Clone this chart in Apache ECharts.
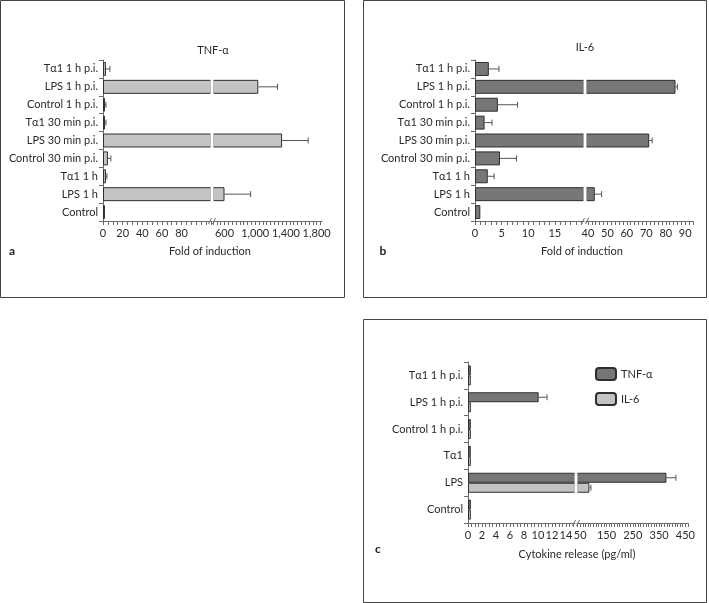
<!DOCTYPE html>
<html><head><meta charset="utf-8">
<script src="https://cdn.jsdelivr.net/npm/echarts@6/dist/echarts.min.js"></script>
<style>html,body{margin:0;padding:0;background:#fff}#c{width:709px;height:603px}</style>
</head><body><div id="c"></div>
<script>
// ---- data ----
const catsAB = ['Control','LPS 1 h','Tα1 1 h','Control 30 min p.i.','LPS 30 min p.i.','Tα1 30 min p.i.','Control 1 h p.i.','LPS 1 h p.i.','Tα1 1 h p.i.'];
const tnfFold    = [2, 600, 3, 5, 1350, 2, 2, 1040, 3];
const tnfFoldErr = [0, 340, 1, 3, 340, 1, 1, 250, 4];
const il6Fold    = [1.0, 43.5, 2.4, 4.7, 71.5, 1.8, 4.3, 85, 2.6];
const il6FoldErr = [0, 3.5, 1.2, 3.1, 1.5, 1.4, 3.7, 1, 1.9];
const catsC = ['Control','LPS','Tα1','Control 1 h p.i.','LPS 1 h p.i.','Tα1 1 h p.i.'];
const tnfRelease    = [0.4, 378, 0.4, 0.4, 10.1, 0.4];
const tnfReleaseErr = [0, 36, 0, 0, 1.2, 0];
const il6Release    = [0.4, 85, 0.4, 0.4, 0.4, 0.4];
const il6ReleaseErr = [0, 6, 0, 0, 0, 0];
const labelsA1 = [0, 20, 40, 60, 80];
const labelsA2 = [600, 1000, 1400, 1800];
const labelsB1 = [0, 5, 10, 15];
const labelsB2 = [40, 50, 60, 70, 80, 90];
const labelsC1 = [0, 2, 4, 6, 8, 10, 12, 14];
const labelsC2 = [50, 150, 250, 350, 450];

// ---- helpers ----
const FONT = 'Lato, "Liberation Sans", sans-serif';
const FS = 11;
const TXT = '#2a2a2a';
const AX = '#6a6a6a';
const DARK = '#777777', LIGHT = '#c3c3c3', EDGE = '#2e2e2e';
function range(a, b, s){ const r=[]; for(let v=a; v<=b+1e-9; v+=s) r.push(+v.toFixed(4)); return r; }
function fmt(v){ return String(v).replace(/\B(?=(\d{3})+(?!\d))/g, ','); }

function xAx(gi, min, max, labels, tickStep, tickStart, formatter){
  return {
    type:'value', gridIndex:gi, min:min, max:max,
    axisLine:{show:true, lineStyle:{color:AX, width:1}},
    axisTick:{show:true, length:4, lineStyle:{color:AX}, customValues: range(tickStart, max, tickStep)},
    axisLabel:{show:true, customValues:labels, margin:7, fontSize:FS, fontFamily:FONT, color:TXT,
      formatter: formatter || (v => String(v))},
    splitLine:{show:false}
  };
}
function yAx(gi, cats, show){
  return {
    type:'category', gridIndex:gi, data:cats, show:show,
    axisLine:{show:true, lineStyle:{color:AX}},
    axisTick:{show:true, length:4, lineStyle:{color:AX}},
    axisLabel:{show:true, margin:5, fontSize:FS, fontFamily:FONT, color:TXT},
    splitLine:{show:false}
  };
}
function bars(name, xi, vals, color, extra){
  return Object.assign({
    type:'bar', name:name, xAxisIndex:xi, yAxisIndex:xi, data:vals, clip:true, z:3,
    itemStyle:{color:color, borderColor:EDGE, borderWidth:1},
    emphasis:{disabled:true}, animation:false
  }, extra||{});
}
function errRender(offset){
  return function(params, api){
    const e = api.value(2);
    if (!e) return null;
    const v = api.value(0), idx = api.value(1);
    const p0 = api.coord([v, idx]), p1 = api.coord([v + e, idx]);
    const cs = params.coordSys;
    if (p0[0] < cs.x - 1 || p1[0] > cs.x + cs.width + 1) return null;
    const y = p0[1] + offset;
    return {type:'group', children:[
      {type:'line', shape:{x1:p0[0], y1:y, x2:p1[0], y2:y}, style:{stroke:'#555', lineWidth:1}},
      {type:'line', shape:{x1:p1[0], y1:y-3, x2:p1[0], y2:y+3}, style:{stroke:'#555', lineWidth:1}}
    ]};
  };
}
function errs(xi, vals, errv, offset){
  return {type:'custom', xAxisIndex:xi, yAxisIndex:xi, z:5, animation:false, silent:true,
    encode:{x:0, y:1},
    data: vals.map((v,i)=>[v, i, errv[i]]),
    renderItem: errRender(offset)};
}
function txt(x, y, s, opts){
  return Object.assign({type:'text', x:x, y:y, silent:true,
    style:Object.assign({text:s, fill:TXT, font:FS + 'px ' + FONT, align:'center', verticalAlign:'middle'}, (opts||{}))});
}
function brk(x, y){
  return [
    {type:'line', silent:true, z:10, shape:{x1:x-3.5, y1:y+3, x2:x-0.5, y2:y-3}, style:{stroke:AX, lineWidth:1}},
    {type:'line', silent:true, z:10, shape:{x1:x+0.5, y1:y+3, x2:x+3.5, y2:y-3}, style:{stroke:AX, lineWidth:1}}
  ];
}
// white cut through the bars at an axis break
function cut(x, y1, y2){
  return {type:'rect', silent:true, z:8, shape:{x:x, y:y1, width:3, height:y2-y1}, style:{fill:'#fff', stroke:null}};
}
function box(x1, y1, x2, y2){
  return {type:'rect', silent:true, shape:{x:x1, y:y1, width:x2-x1, height:y2-y1},
    style:{fill:'none', stroke:'#444', lineWidth:1}};
}

const abGap = '22%';
const option = {
  animation:false,
  backgroundColor:'#fff',
  grid:[
    {left:103, top:60, width:108, height:161},
    {left:213, top:60, width:109, height:161},
    {left:475, top:60, width:109, height:161},
    {left:586, top:60, width:107, height:161},
    {left:468, top:362, width:107, height:161},
    {left:577, top:362, width:111, height:161}
  ],
  xAxis:[
    xAx(0, 0, 110, labelsA1, 5, 0),
    xAx(1, 450, 1870, labelsA2, 50, 450, fmt),
    xAx(2, 0, 20.5, labelsB1, 1, 0),
    xAx(3, 39, 94, labelsB2, 2, 40),
    xAx(4, 0, 15.3, labelsC1, 0.5, 0),
    xAx(5, 38, 460, labelsC2, 10, 40)
  ],
  yAxis:[
    yAx(0, catsAB, true), yAx(1, catsAB, false),
    yAx(2, catsAB, true), yAx(3, catsAB, false),
    yAx(4, catsC, true),  yAx(5, catsC, false)
  ],
  legend:{
    data:['TNF-α','IL-6'], orient:'vertical', left:590, top:362,
    itemWidth:20, itemHeight:12, itemGap:11, selectedMode:false,
    textStyle:{fontSize:FS, fontFamily:FONT, color:TXT}
  },
  series:[
    bars('a-tnf', 0, tnfFold, LIGHT, {barCategoryGap:abGap}),
    bars('a-tnf2', 1, tnfFold, LIGHT, {barCategoryGap:abGap}),
    errs(0, tnfFold, tnfFoldErr, 0), errs(1, tnfFold, tnfFoldErr, 0),
    bars('b-il6', 2, il6Fold, DARK, {barCategoryGap:abGap}),
    bars('b-il62', 3, il6Fold, DARK, {barCategoryGap:abGap}),
    errs(2, il6Fold, il6FoldErr, 0), errs(3, il6Fold, il6FoldErr, 0),
    bars('TNF-α', 4, tnfRelease, DARK, {barWidth:10, barGap:'0%'}),
    bars('IL-6', 4, il6Release, LIGHT, {barWidth:10, barGap:'0%'}),
    bars('TNF-α', 5, tnfRelease, DARK, {barWidth:10, barGap:'0%'}),
    bars('IL-6', 5, il6Release, LIGHT, {barWidth:10, barGap:'0%'}),
    errs(4, tnfRelease, tnfReleaseErr, -5), errs(5, tnfRelease, tnfReleaseErr, -5),
    errs(4, il6Release, il6ReleaseErr, 5), errs(5, il6Release, il6ReleaseErr, 5)
  ],
  graphic:[
    box(0.5, 0.5, 344.5, 297.5),
    box(363.5, 0.5, 706.5, 297.5),
    box(363.5, 319.5, 706.5, 602.5),
    cut(210.5, 60, 220),
    cut(583.5, 60, 220),
    cut(574.5, 362, 522),
    txt(213, 50, 'TNF-α'),
    txt(585, 47, 'IL-6'),
    txt(210, 251, 'Fold of induction'),
    txt(582, 251, 'Fold of induction'),
    txt(577, 554, 'Cytokine release (pg/ml)'),
    txt(12, 251, 'a', {font:'bold 12px ' + FONT, fill:'#222'}),
    txt(383, 251, 'b', {font:'bold 12px ' + FONT, fill:'#222'}),
    txt(378, 549, 'c', {font:'bold 12px ' + FONT, fill:'#222'}),
    ...brk(212, 221),
    ...brk(585, 221),
    ...brk(576, 523)
  ]
};
const chart = echarts.init(document.getElementById('c'), null, {renderer:'canvas'});
chart.setOption(option);
</script>
</body></html>
